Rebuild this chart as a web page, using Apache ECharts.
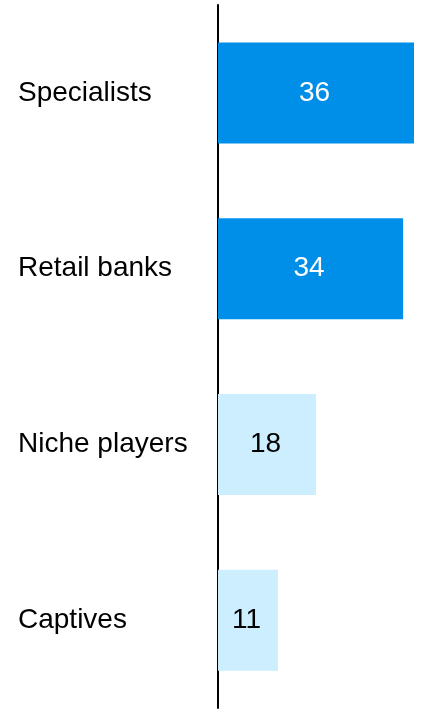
<!DOCTYPE html>
<html>
<head>
<meta charset="utf-8">
<script src="https://cdn.jsdelivr.net/npm/echarts@6/dist/echarts.min.js"></script>
<style>
html,body{margin:0;padding:0;background:#fff;}
#c{width:428px;height:721px;}
</style>
</head>
<body>
<div id="c"></div>
<script>
var categories = ['Specialists', 'Retail banks', 'Niche players', 'Captives'];
var values = [36, 34, 18, 11];
var barColors = ['#008FE8', '#008FE8', '#CCEEFF', '#CCEEFF'];
var labelColors = ['#FFFFFF', '#FFFFFF', '#000000', '#000000'];

var FONT = '"Liberation Sans", Arial, sans-serif';

var chart = echarts.init(document.getElementById('c'), null, {renderer: 'canvas'});
chart.setOption({
  animation: false,
  backgroundColor: '#ffffff',
  grid: {left: 218, right: 14, top: 5, bottom: 13, containLabel: false},
  xAxis: {
    type: 'value', min: 0, max: 36,
    show: false
  },
  yAxis: {
    type: 'category',
    data: categories,
    inverse: true,
    axisLine: {show: true, lineStyle: {color: '#000', width: 2}},
    axisTick: {show: false},
    splitLine: {show: false},
    axisLabel: {
      align: 'left', margin: 200,
      color: '#000', fontSize: 28, fontFamily: FONT,
      padding: [7, 0, 0, 0]
    }
  },
  series: [{
    type: 'bar',
    barWidth: 101,
    z: 1,
    data: values.map(function (v, i) {
      return {
        value: v,
        itemStyle: {color: barColors[i]},
        label: {color: labelColors[i]}
      };
    }),
    label: {
      show: true, position: 'inside',
      fontSize: 28, fontFamily: FONT,
      padding: [7, 3, 0, 0]
    }
  }]
});
</script>
</body>
</html>
